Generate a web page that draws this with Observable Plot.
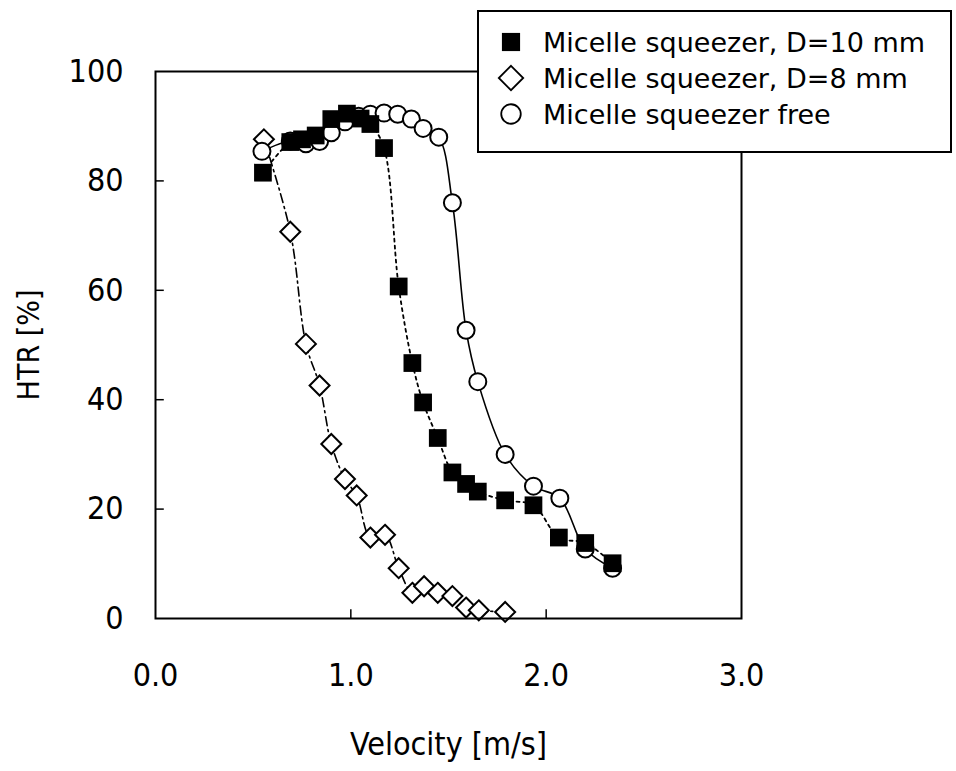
<!DOCTYPE html>
<html><head><meta charset="utf-8">
<script src="https://cdn.jsdelivr.net/npm/d3@7"></script>
<script src="https://cdn.jsdelivr.net/npm/@observablehq/plot@0.6"></script>
<style>
body{margin:0;background:#fff}
#wrap{position:relative;width:956px;height:771px;background:#fff}
#legend{position:absolute;left:0;top:0}
</style>
</head><body><div id="wrap"></div>
<script>
// ---- data ----
const seriesNames = ["Micelle squeezer, D=10 mm", "Micelle squeezer, D=8 mm", "Micelle squeezer free"];

const d10Velocity = [0.55,0.69,0.75,0.82,0.90,0.98,1.05,1.10,1.17,1.245,1.315,1.37,1.445,1.52,1.59,1.65,1.79,1.935,2.065,2.20,2.34];
const d10HTR      = [81.5,87.1,87.6,88.3,91.3,92.3,91.4,90.4,86.0,60.7,46.7,39.5,33.0,26.7,24.6,23.2,21.6,20.7,14.8,13.8,10.1];

const d8Velocity  = [0.555,0.69,0.77,0.84,0.90,0.97,1.03,1.10,1.175,1.245,1.315,1.375,1.445,1.52,1.59,1.655,1.79];
const d8HTR       = [87.6,70.7,50.2,42.6,31.9,25.5,22.5,14.8,15.3,9.2,4.7,5.9,4.7,4.1,2.0,1.5,1.2];

const freeVelocity = [0.545,0.69,0.77,0.84,0.90,0.97,1.04,1.10,1.17,1.24,1.31,1.37,1.45,1.52,1.59,1.65,1.79,1.935,2.07,2.20,2.34];
const freeHTR      = [85.4,87.3,86.8,87.2,88.8,90.8,91.8,92.2,92.4,92.2,91.3,89.6,88.0,76.0,52.7,43.3,30.0,24.2,22.0,12.7,9.2];

const xTicks = [0, 1, 2, 3];
const yTicks = [0, 20, 40, 60, 80, 100];
const xInnerTicks = [1, 2];
const yInnerTicks = [20, 40, 60, 80];
const xLabel = "Velocity [m/s]";
const yLabel = "HTR [%]";

// ---- tables built from the arrays ----
const toRows = (vs, hs) => vs.map((v, i) => ({v, h: hs[i]}));
const d10 = toRows(d10Velocity, d10HTR);
const d8 = toRows(d8Velocity, d8HTR);
const free = toRows(freeVelocity, freeHTR);

const tickFont = "'DejaVu Sans Condensed','DejaVu Sans',sans-serif";
const W = 956, H = 771;
const mL = 155, mR = 215, mT = 71, mB = 153;

const plot = Plot.plot({
  width: W, height: H,
  marginLeft: mL, marginRight: mR, marginTop: mT, marginBottom: mB,
  style: {fontFamily: tickFont, background: "white", color: "black", overflow: "visible"},
  x: {domain: [0, 3]},
  y: {domain: [0, 100]},
  marks: [
    Plot.axisY(yTicks, {tickSize: 0, tickPadding: 32, fontSize: 32, label: null}),
    Plot.axisX(xTicks, {tickSize: 0, tickPadding: 45, fontSize: 32, tickFormat: d3.format(".1f"), label: null}),
    Plot.ruleY(yInnerTicks, {x1: 0, x2: 0.045, stroke: "black", strokeWidth: 1.5}),
    Plot.ruleX(xInnerTicks, {y1: 0, y2: 1.6, stroke: "black", strokeWidth: 1.5}),
    Plot.text([yLabel], {frameAnchor: "left", textAnchor: "middle", rotate: -90, dx: -126, fontSize: 30, fill: "black"}),
    Plot.text([xLabel], {frameAnchor: "bottom", textAnchor: "middle", dy: 136, fontSize: 32, fill: "black"}),
    // lines
    Plot.line(d8, {x: "v", y: "h", curve: "catmull-rom", stroke: "black", strokeWidth: 1.6, strokeDasharray: "9,4,2,4"}),
    Plot.line(free, {x: "v", y: "h", curve: "catmull-rom", stroke: "black", strokeWidth: 1.6}),
    Plot.line(d10, {x: "v", y: "h", curve: "catmull-rom", stroke: "black", strokeWidth: 1.8, strokeDasharray: "3,4"}),
    // markers
    Plot.dot(d8, {x: "v", y: "h", symbol: "diamond2", r: 9, fill: "white", stroke: "black", strokeWidth: 2}),
    Plot.dot(free, {x: "v", y: "h", symbol: "circle", r: 8.5, fill: "white", stroke: "black", strokeWidth: 2}),
    Plot.dot(d10, {x: "v", y: "h", symbol: "square", r: 10, fill: "black", stroke: "black", strokeWidth: 0}),
    Plot.frame({stroke: "black", strokeWidth: 2})
  ]
});

const wrap = document.getElementById("wrap");
wrap.appendChild(plot);

// ---- legend overlay ----
const legendSymbols = [d3.symbolSquare, d3.symbolDiamond2, d3.symbolCircle];
const legendFill = ["black", "white", "white"];
const legendSize = [330, 380, 300];
const svg = d3.select(wrap).append("svg")
  .attr("id", "legend").attr("width", W).attr("height", H)
  .style("pointer-events", "none");
svg.append("rect").attr("x", 478).attr("y", 11).attr("width", 473).attr("height", 141)
  .attr("fill", "white").attr("stroke", "black").attr("stroke-width", 2);
const rows = svg.selectAll("g.row").data(seriesNames).join("g")
  .attr("transform", (d, i) => `translate(511,${42 + i * 36})`);
rows.append("path")
  .attr("d", (d, i) => d3.symbol(legendSymbols[i], legendSize[i])())
  .attr("fill", (d, i) => legendFill[i]).attr("stroke", "black").attr("stroke-width", (d, i) => i === 0 ? 0 : 1.8);
rows.append("text").attr("x", 32).attr("dy", "0.36em")
  .attr("font-family", "'DejaVu Sans',sans-serif").attr("font-size", 27)
  .attr("fill", "black").text(d => d);
</script>
</body></html>
